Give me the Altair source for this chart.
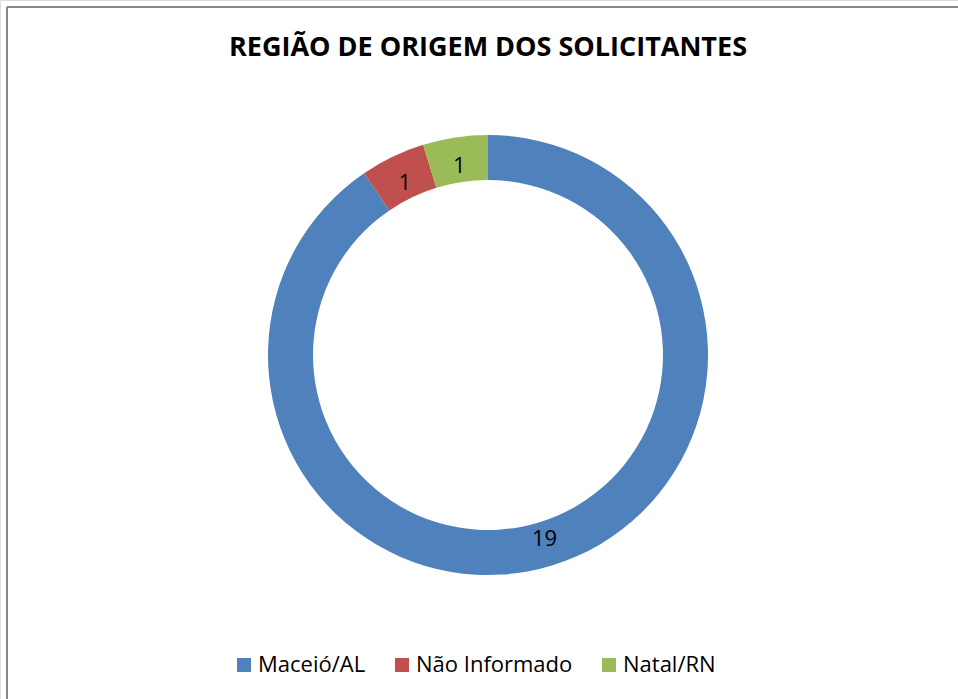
import altair as alt
import pandas as pd

regions = ["Maceió/AL", "Não Informado", "Natal/RN"]
counts = [19, 1, 1]
colors = ["#4F81BD", "#C0504D", "#9BBB59"]
title_text = "REGIÃO DE ORIGEM DOS SOLICITANTES"

df = pd.DataFrame({"regiao": regions, "n": counts, "ord": list(range(len(regions)))})

W, H = 958, 699
CX, CY = 488, 355

base = alt.Chart(df).encode(
    theta=alt.Theta("n:Q", stack=True),
    order=alt.Order("ord:Q"),
)

arcs = base.mark_arc(outerRadius=220, innerRadius=175, stroke=None).encode(
    x=alt.value(CX), y=alt.value(CY),
    color=alt.Color("regiao:N", scale=alt.Scale(domain=regions, range=colors),
                    sort=regions,
                    legend=alt.Legend(title=None, orient="none", direction="horizontal",
                                      legendX=233, legendY=654,
                                      symbolType="square", symbolSize=196,
                                      symbolStrokeWidth=0,
                                      labelFont="Open Sans", labelFontSize=22,
                                      labelColor="#000000", columnPadding=25,
                                      labelOffset=3)),
)

labels = base.mark_text(radius=192, dy=1, font="Open Sans", fontSize=22, color="#000000").encode(
    x=alt.value(CX), y=alt.value(CY),
    text=alt.Text("n:Q"),
)

title = alt.Chart(pd.DataFrame({"t": [title_text]})).mark_text(
    font="Open Sans", fontSize=27, fontWeight="bold", color="#000000"
).encode(x=alt.value(488), y=alt.value(48), text="t:N")

frame_top = alt.Chart(pd.DataFrame({"a": [0]})).mark_rule(color="#888888", strokeWidth=2).encode(
    x=alt.value(7), x2=alt.value(W), y=alt.value(7))
frame_left = alt.Chart(pd.DataFrame({"a": [0]})).mark_rule(color="#888888", strokeWidth=2).encode(
    x=alt.value(7), y=alt.value(7), y2=alt.value(H))

chart = alt.layer(frame_top, frame_left, title, arcs, labels).properties(
    width=W, height=H, padding=0, autosize=alt.AutoSizeParams(type="none")
).configure_view(stroke=None).configure(background="white")

chart.save("out.html", embed_options={"renderer": "svg", "actions": False})
